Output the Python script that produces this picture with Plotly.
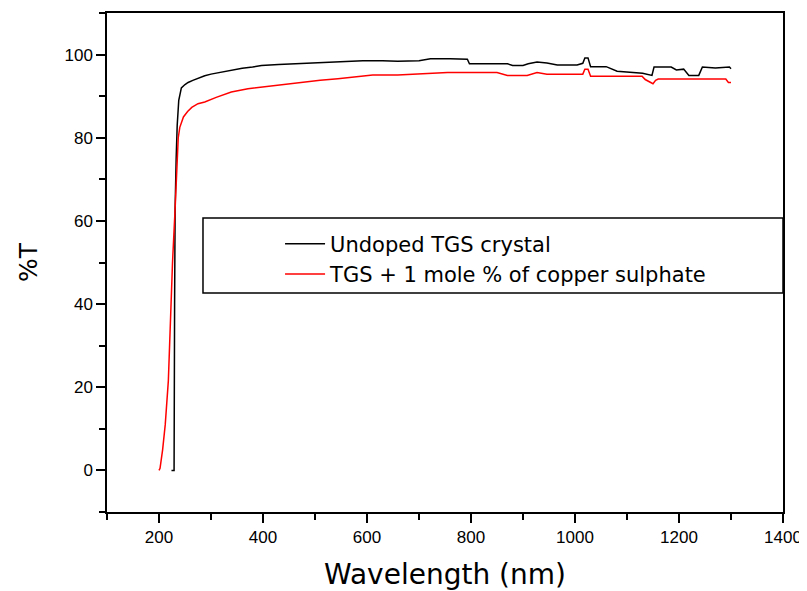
import plotly.graph_objects as go

# wavelength (nm) and %T
wl_undoped = [224, 229, 230, 231, 233, 235, 238, 240, 243, 250, 256, 265, 275, 288, 300, 320,
              339, 360, 380, 397, 430, 467, 520, 560, 592, 630, 659, 700, 722, 760, 793, 797,
              830, 870, 880, 900, 910, 927, 946, 966, 1004, 1015, 1019, 1025, 1030, 1060, 1081,
              1110, 1130, 1148, 1152, 1185, 1195, 1209, 1219, 1238, 1245, 1270, 1297, 1300]
t_undoped = [0, 0, 40, 63, 75, 83, 89, 90.5, 92.0, 92.8, 93.3, 93.8, 94.3, 94.9, 95.3, 95.8,
             96.3, 96.7, 97.0, 97.4, 97.6, 97.8, 98.1, 98.3, 98.5, 98.5, 98.4, 98.5, 99.0, 99.0, 98.9, 97.8,
             97.8, 97.8, 97.4, 97.4, 97.8, 98.2, 98.0, 97.5, 97.5, 97.9, 99.2, 99.2, 97.1, 97.1, 96.0,
             95.8, 95.5, 95.0, 97.0, 97.0, 96.3, 96.5, 95.0, 95.0, 97.0, 96.8, 97.0, 96.6]

wl_doped = [200, 202, 207, 212, 218, 222, 226, 231, 234, 237, 240, 247, 255, 263, 275, 288,
            310, 339, 371, 416, 467, 510, 544, 611, 659, 700, 755, 800, 850, 870, 908, 927,
            946, 980, 1015, 1019, 1025, 1030, 1080, 1129, 1135, 1150, 1155, 1160, 1200, 1250, 1290,
            1295, 1300]
t_doped = [0, 0.5, 5, 11, 21.6, 36, 50, 63, 72, 80, 82.5, 85, 86.3, 87.3, 88.2, 88.6,
           89.7, 91.0, 91.8, 92.5, 93.3, 93.8, 94.2, 95.1, 95.1, 95.4, 95.7, 95.7, 95.7, 95.0, 95.0, 95.7,
           95.3, 95.3, 95.3, 96.5, 96.5, 94.8, 94.8, 94.8, 94.0, 93.0, 93.8, 94.1, 94.1, 94.1, 94.1,
           93.3, 93.3]

names = ["Undoped TGS crystal", "TGS + 1 mole % of copper sulphate"]
colors = ["black", "red"]

fig = go.Figure()
fig.add_trace(go.Scatter(x=wl_undoped, y=t_undoped, mode="lines", name=names[0],
                         line=dict(color=colors[0], width=1.5)))
fig.add_trace(go.Scatter(x=wl_doped, y=t_doped, mode="lines", name=names[1],
                         line=dict(color=colors[1], width=1.5)))

# legend frame reaching the right axis
fig.add_shape(type="rect", xref="paper", yref="paper", x0=0.142, x1=1.0, y0=0.439, y1=0.589,
              line=dict(color="black", width=1.5), fillcolor="white", layer="below")

axis_common = dict(showline=True, linecolor="black", linewidth=1.5, mirror=True,
                   ticks="outside", ticklen=9, tickwidth=1.5, tickcolor="black",
                   showgrid=False, zeroline=False, automargin=False,
                   tickfont=dict(family="Liberation Sans", size=17, color="black"),
                   minor=dict(ticks="outside", ticklen=6, tickwidth=1.5, tickcolor="black"))

# page body has an 8px margin, so the figure is a bit smaller than the window
fig.update_layout(
    width=799, height=583,
    margin=dict(l=99, r=24, t=5, b=79),
    plot_bgcolor="white", paper_bgcolor="white",
    font=dict(family="DejaVu Sans", color="black"),
    showlegend=True,
    legend=dict(x=0.256, y=0.578, xanchor="left", yanchor="top",
                bgcolor="rgba(0,0,0,0)", borderwidth=0,
                font=dict(family="DejaVu Sans", size=21, color="black"),
                tracegroupgap=0, itemwidth=40),
)
fig.update_xaxes(range=[100, 1400], dtick=200, tick0=0, minor_dtick=100,
                 title=dict(text="Wavelength (nm)", font=dict(size=28, family="DejaVu Sans"), standoff=20),
                 **axis_common)
fig.update_yaxes(range=[-10, 110], dtick=20, tick0=0, minor_dtick=10,
                 title=dict(text="%T", font=dict(size=25, family="DejaVu Sans"), standoff=20),
                 **axis_common)

fig.write_html("out.html")
